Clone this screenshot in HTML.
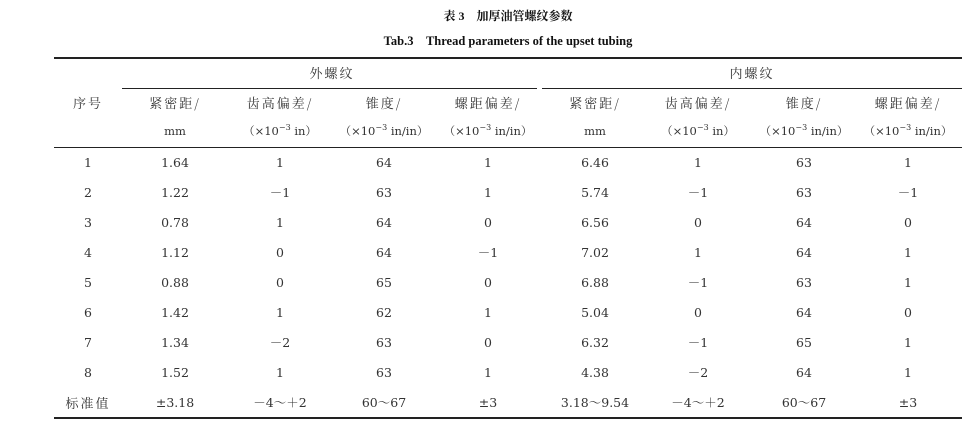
<!DOCTYPE html>
<html><head><meta charset="utf-8"><style>
body{margin:0;width:967px;height:424px;background:#fff;position:relative;overflow:hidden;font-family:"DejaVu Serif","Noto Serif CJK SC",serif;color:#333;}
.t{position:absolute;transform:translateX(-50%);white-space:nowrap;font-size:12.5px;line-height:16px;}
.c{font-family:"Noto Serif CJK SC",serif;letter-spacing:2px;font-size:13px}
.h{position:absolute;background:#222;}
sup{font-size:8px;vertical-align:5px;line-height:0;}
b{font-weight:bold;color:#111}
</style></head><body>
<div class="t" style="left:508px;top:8px;font-size:12px;font-family:'Liberation Serif','Noto Serif CJK SC',serif"><b>表 3　加厚油管螺纹参数</b></div>
<div class="t" style="left:508px;top:33px;font-size:12.5px;font-family:'Liberation Serif',serif"><b>Tab.3　Thread parameters of the upset tubing</b></div>
<div class="h" style="left:54px;top:57px;width:908px;height:2px"></div>
<div class="h" style="left:122px;top:88px;width:415px;height:1px"></div>
<div class="h" style="left:542px;top:88px;width:420px;height:1px"></div>
<div class="h" style="left:54px;top:147px;width:908px;height:1px"></div>
<div class="h" style="left:54px;top:417px;width:908px;height:2px"></div>
<div class="t c" style="left:332px;top:65px">外螺纹</div>
<div class="t c" style="left:752px;top:65px">内螺纹</div>
<div class="t c" style="left:88px;top:95px">序号</div>
<div id="hd"></div>
<script>
var cols=[175,280,384,488,595,698,804,908];
var h1=['紧密距/','齿高偏差/','锥度/','螺距偏差/'];
var h2=['mm','（×10<sup>−3</sup> in）','（×10<sup>−3</sup> in/in）','（×10<sup>−3</sup> in/in）'];
var rows=[['1','1.64','1','64','1','6.46','1','63','1'],['2','1.22','－1','63','1','5.74','－1','63','－1'],['3','0.78','1','64','0','6.56','0','64','0'],['4','1.12','0','64','－1','7.02','1','64','1'],['5','0.88','0','65','0','6.88','－1','63','1'],['6','1.42','1','62','1','5.04','0','64','0'],['7','1.34','－2','63','0','6.32','－1','65','1'],['8','1.52','1','63','1','4.38','－2','64','1'],['<span class="c">标准值</span>','±3.18','－4～＋2','60～67','±3','3.18～9.54','－4～＋2','60～67','±3']];
var s='';
for(var i=0;i<8;i++){s+='<div class="t c" style="left:'+cols[i]+'px;top:95px">'+h1[i%4]+'</div>';s+='<div class="t" style="left:'+cols[i]+'px;top:123px;font-size:11.5px">'+h2[i%4]+'</div>';}
var xs=[88].concat(cols);
for(var r=0;r<9;r++)for(var c=0;c<9;c++)s+='<div class="t" style="left:'+xs[c]+'px;top:'+(155+r*30)+'px">'+rows[r][c]+'</div>';
document.getElementById('hd').outerHTML=s;
</script>
</body></html>
